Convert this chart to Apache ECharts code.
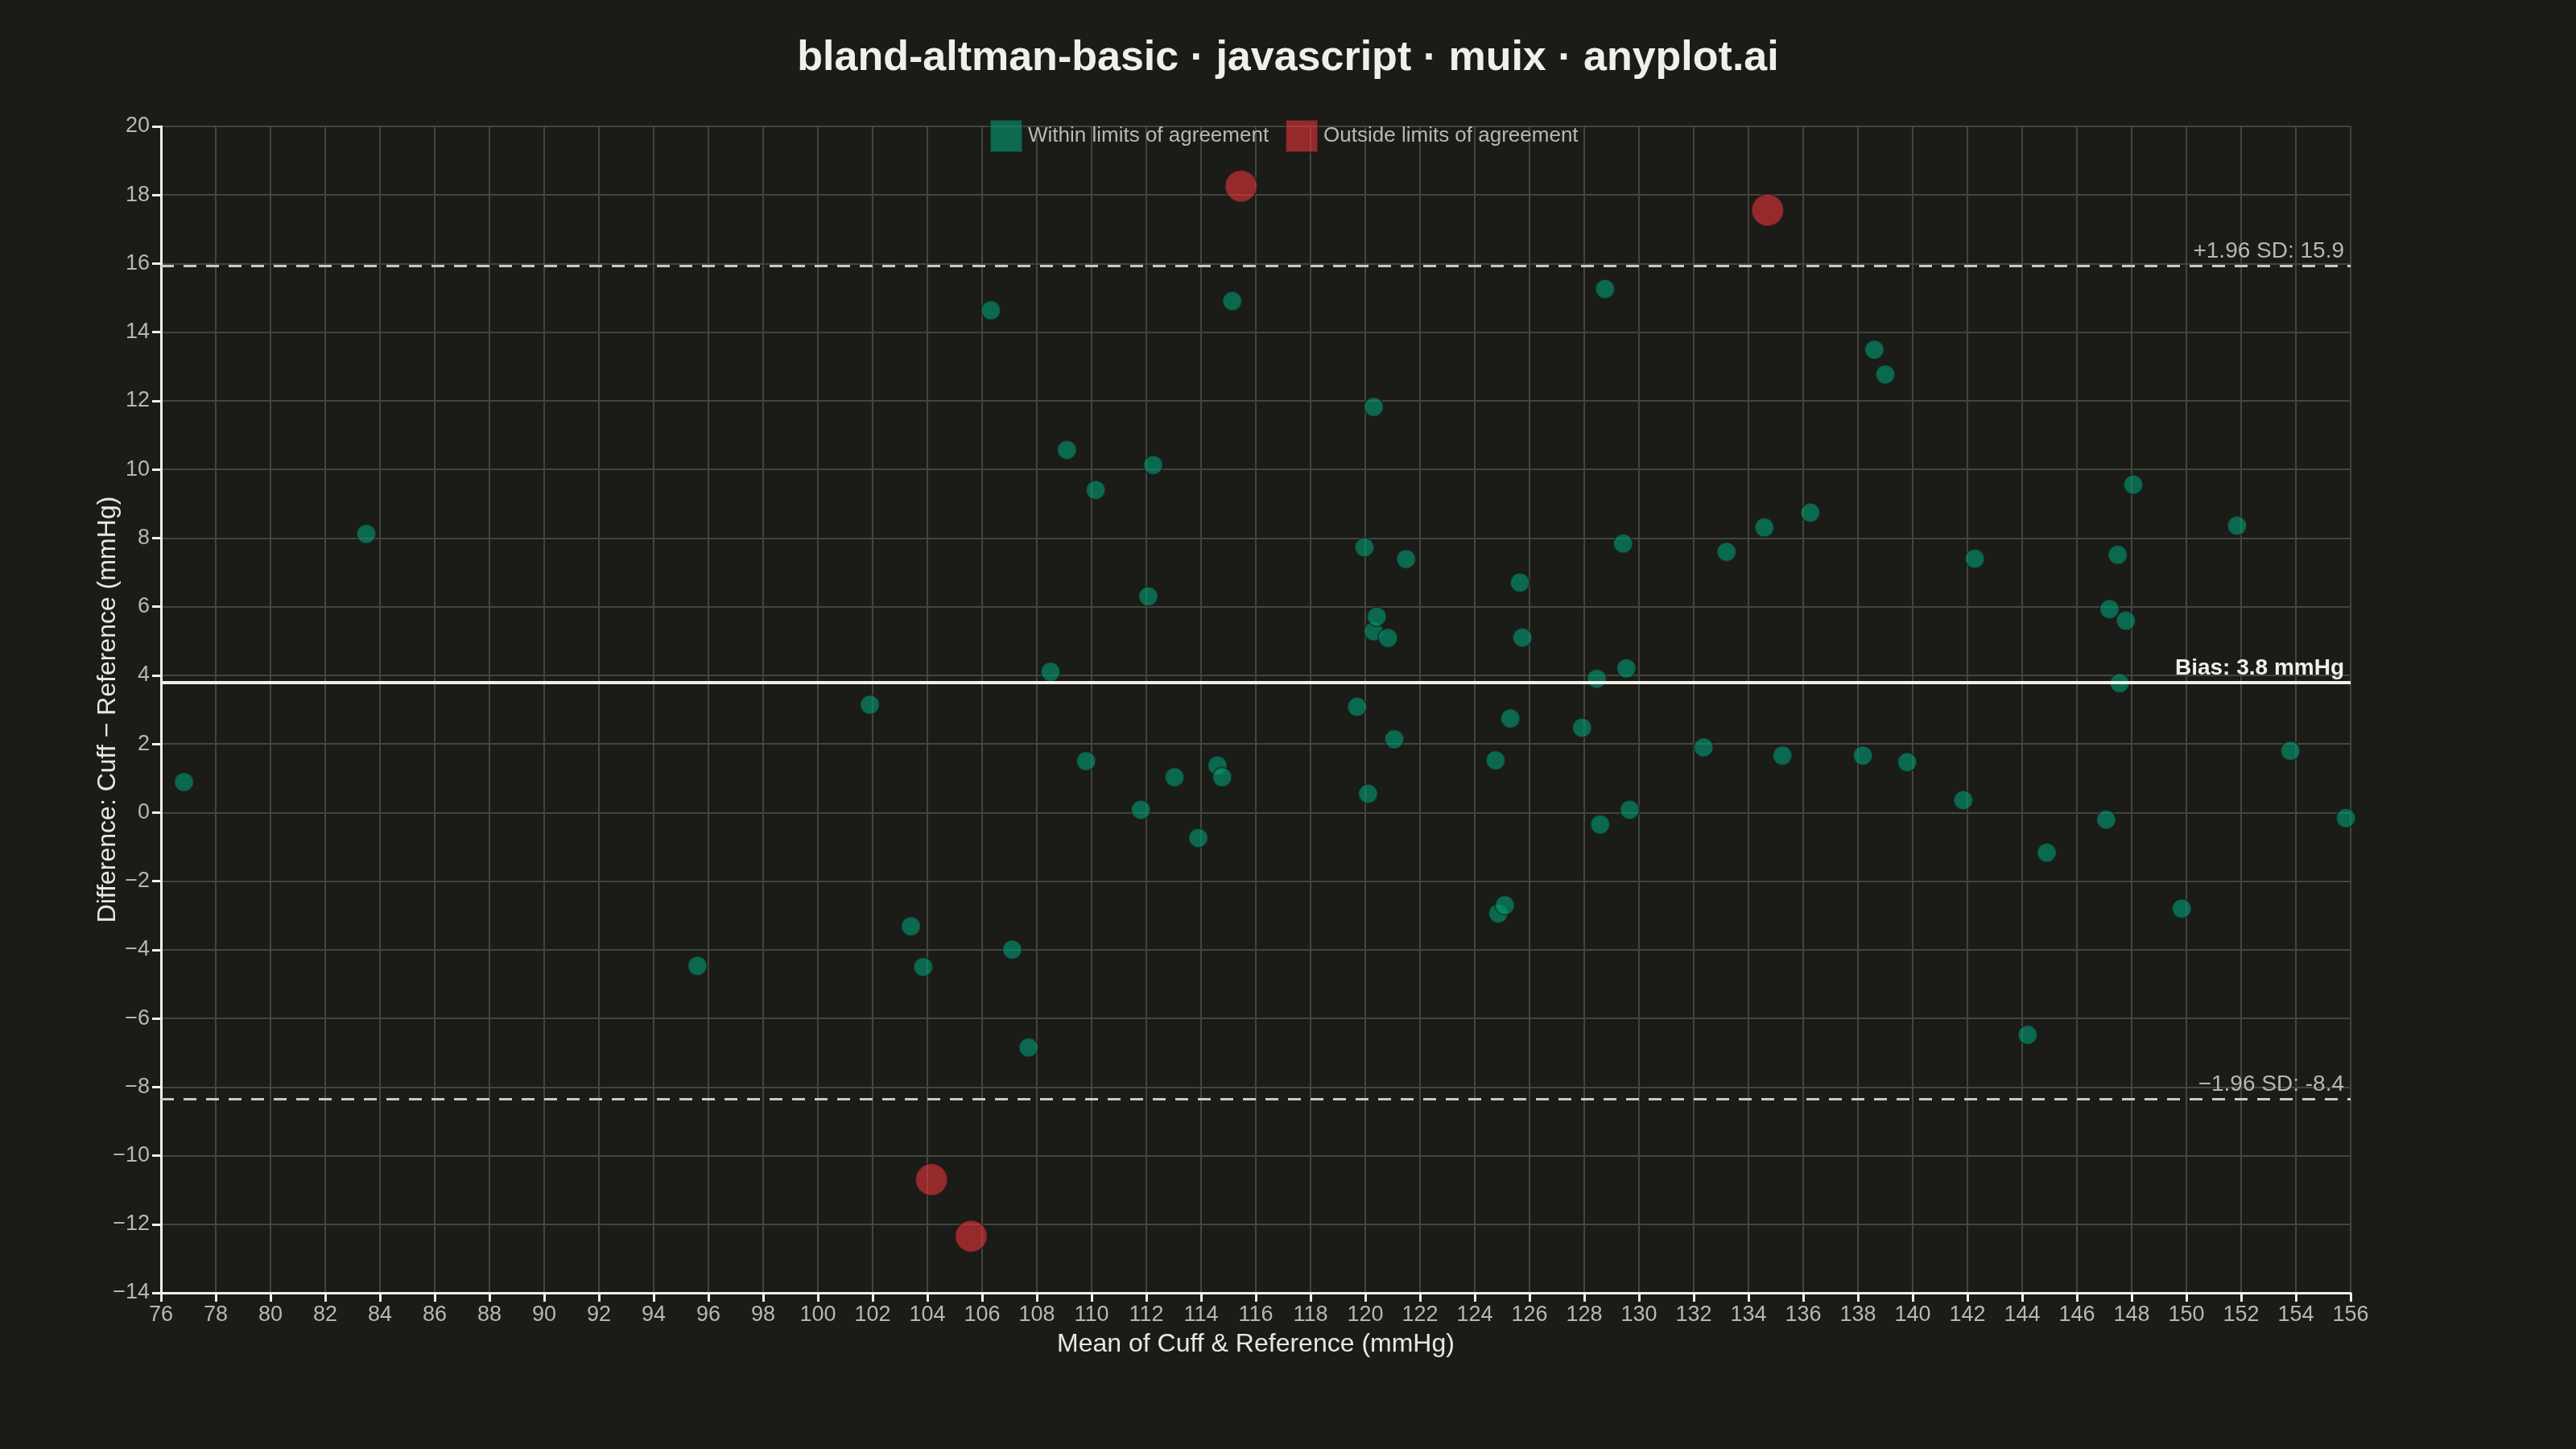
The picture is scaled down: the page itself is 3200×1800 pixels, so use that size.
<!DOCTYPE html>
<html>
<head>
<meta charset="utf-8">
<title>bland-altman-basic</title>
<script src="https://cdn.jsdelivr.net/npm/echarts@6/dist/echarts.min.js"></script>
<style>
  html, body { margin: 0; padding: 0; background: #1b1b17; }
  #chart { width: 3200px; height: 1800px; }
</style>
</head>
<body>
<div id="chart"></div>
<script>
// mean of the two methods (x) and their difference (y)
const withinMean = [
  76.84, 83.5, 95.6, 101.9, 103.4, 103.85, 106.32, 107.1, 107.7, 108.5,
  109.1, 109.8, 110.15, 111.8, 112.07, 112.25, 113.03, 113.9, 114.6, 114.77,
  115.14, 119.7, 119.97, 120.1, 120.31, 120.31, 120.42, 120.83, 121.06, 121.49,
  124.76, 124.86, 125.1, 125.3, 125.65, 125.74, 127.92, 128.46, 128.58, 128.76,
  129.42, 129.54, 129.66, 132.36, 133.2, 134.58, 135.24, 136.26, 138.18, 138.6,
  139.0, 139.8, 141.85, 142.27, 144.2, 144.9, 147.07, 147.19, 147.49, 147.56,
  147.79, 148.06, 149.83, 151.85, 153.8, 155.83
];
const withinDiff = [
  0.89, 8.12, -4.47, 3.14, -3.32, -4.5, 14.64, -4.0, -6.85, 4.1,
  10.57, 1.5, 9.4, 0.08, 6.3, 10.13, 1.03, -0.74, 1.37, 1.03,
  14.91, 3.08, 7.73, 0.55, 11.82, 5.28, 5.71, 5.09, 2.14, 7.39,
  1.52, -2.94, -2.7, 2.74, 6.7, 5.1, 2.47, 3.9, -0.35, 15.26,
  7.84, 4.2, 0.08, 1.9, 7.6, 8.31, 1.66, 8.74, 1.66, 13.49,
  12.77, 1.47, 0.36, 7.4, -6.48, -1.17, -0.21, 5.93, 7.51, 3.77,
  5.59, 9.56, -2.8, 8.36, 1.8, -0.16
];
const outsideMean = [104.15, 105.6, 115.46, 134.7];
const outsideDiff = [-10.7, -12.35, 18.26, 17.56];

// bias and limits of agreement
const bias = 3.79;
const upperLoA = 15.93;
const lowerLoA = -8.35;
const biasLabel = 'Bias: 3.8 mmHg';
const upperLabel = '+1.96 SD: 15.9';
const lowerLabel = '\u22121.96 SD: -8.4';

const seriesNames = ['Within limits of agreement', 'Outside limits of agreement'];

const BG = '#1b1b17';
const FONT = '"Liberation Sans", Arial, sans-serif';

const zip = (xs, ys) => xs.map((x, i) => [x, ys[i]]);
const minus = v => String(v).replace('-', '\u2212');

const chart = echarts.init(document.getElementById('chart'), null, { renderer: 'canvas' });

const axisCommon = {
  axisLine: { show: true, onZero: false, lineStyle: { color: '#f0efe8', width: 3 } },
  axisTick: { show: true, length: 11, lineStyle: { color: '#f0efe8', width: 3 } },
  axisLabel: { color: '#b8b8b0', fontSize: 27, fontFamily: FONT, formatter: minus },
  splitLine: { show: true, lineStyle: { color: '#45453f', width: 2 } },
  nameTextStyle: { color: '#e8e8e0', fontSize: 32, fontFamily: FONT },
  nameMoveOverlap: false
};

const option = {
  backgroundColor: BG,
  animation: false,
  textStyle: { fontFamily: FONT },
  title: {
    text: 'bland-altman-basic \u00b7 javascript \u00b7 muix \u00b7 anyplot.ai',
    left: 'center',
    top: 42,
    textStyle: { color: '#f0efe8', fontSize: 52, fontWeight: 'bold', fontFamily: FONT }
  },
  legend: {
    top: 143,
    left: 1224,
    icon: 'rect',
    itemWidth: 40,
    itemHeight: 40,
    itemGap: 20,
    textStyle: { color: '#b8b8b0', fontSize: 26, fontFamily: FONT, padding: [0, 0, 0, 2] },
    data: seriesNames
  },
  grid: { left: 200, right: 280, top: 157, bottom: 194, containLabel: false },
  xAxis: Object.assign({}, axisCommon, {
    type: 'value',
    min: 76,
    max: 156,
    interval: 2,
    name: 'Mean of Cuff & Reference (mmHg)',
    nameLocation: 'middle',
    nameGap: 48,
    axisLabel: Object.assign({}, axisCommon.axisLabel, { margin: 14 })
  }),
  yAxis: Object.assign({}, axisCommon, {
    type: 'value',
    min: -14,
    max: 20,
    interval: 2,
    name: 'Difference: Cuff \u2212 Reference (mmHg)',
    nameLocation: 'middle',
    nameGap: 50,
    axisLabel: Object.assign({}, axisCommon.axisLabel, { margin: 14 })
  }),
  series: [
    {
      name: seriesNames[0],
      type: 'scatter',
      z: 3,
      symbolSize: 24,
      itemStyle: { color: '#009E73', opacity: 0.6, borderColor: BG, borderWidth: 2 },
      data: zip(withinMean, withinDiff)
    },
    {
      name: seriesNames[1],
      type: 'scatter',
      z: 3,
      symbolSize: 40,
      itemStyle: { color: '#E8363C', opacity: 0.6, borderColor: BG, borderWidth: 2 },
      data: zip(outsideMean, outsideDiff)
    },
    {
      // reference lines only
      name: 'lines',
      type: 'line',
      z: 1,
      data: [],
      silent: true,
      markLine: {
        silent: true,
        symbol: 'none',
        animation: false,
        data: [
          {
            yAxis: bias,
            lineStyle: { color: '#f0efe8', width: 4, type: 'solid' },
            label: {
              show: true, position: 'insideEndTop', formatter: biasLabel, distance: [8, 4],
              color: '#f0efe8', fontSize: 28, fontWeight: 'bold', fontFamily: FONT
            }
          },
          {
            yAxis: upperLoA,
            lineStyle: { color: '#c8c8c0', width: 3, type: [16, 12] },
            label: {
              show: true, position: 'insideEndTop', formatter: upperLabel, distance: [8, 4],
              color: '#b8b8b0', fontSize: 28, fontFamily: FONT
            }
          },
          {
            yAxis: lowerLoA,
            lineStyle: { color: '#c8c8c0', width: 3, type: [16, 12] },
            label: {
              show: true, position: 'insideEndTop', formatter: lowerLabel, distance: [8, 4],
              color: '#b8b8b0', fontSize: 28, fontFamily: FONT
            }
          }
        ]
      }
    }
  ]
};

chart.setOption(option);
</script>
</body>
</html>
